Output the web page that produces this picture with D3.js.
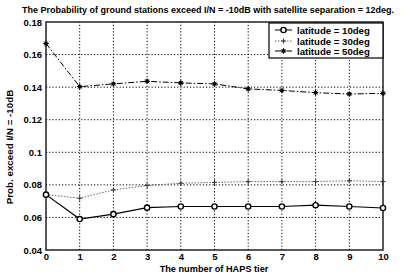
<!DOCTYPE html>
<html>
<head>
<meta charset="utf-8">
<script src="https://cdn.jsdelivr.net/npm/d3@7"></script>
<style>
  body { margin: 0; background: #fff; }
  text { font-family: "Liberation Sans", Arial, sans-serif; font-weight: bold; fill: #000; }
</style>
</head>
<body>
<div id="chart"></div>
<script>
var tiers = [0, 1, 2, 3, 4, 5, 6, 7, 8, 9, 10];
var lat10 = [0.074, 0.059, 0.062, 0.066, 0.0667, 0.0667, 0.0667, 0.0667, 0.0675, 0.0667, 0.0658];
var lat30 = [0.074, 0.0718, 0.0769, 0.0796, 0.081, 0.0815, 0.082, 0.082, 0.082, 0.0825, 0.082];
var lat50 = [0.1668, 0.1403, 0.142, 0.1436, 0.1426, 0.142, 0.1389, 0.138, 0.1366, 0.1358, 0.1362];
var yTicks = [0.04, 0.06, 0.08, 0.1, 0.12, 0.14, 0.16, 0.18];
var names = ["latitude = 10deg", "latitude = 30deg", "latitude = 50deg"];

var W = 409, H = 274;
var margin = { left: 46, right: 26, top: 22, bottom: 24 };

var svg = d3.select("#chart").append("svg")
    .attr("width", W)
    .attr("height", H);

var x = d3.scaleLinear().domain([0, 10]).range([margin.left, W - margin.right]);
var y = d3.scaleLinear().domain([0.04, 0.18]).range([H - margin.bottom, margin.top]);

// grid
svg.append("g").selectAll("line.vg")
    .data(tiers.slice(1, -1))
    .enter().append("line")
    .attr("x1", d => x(d)).attr("x2", d => x(d))
    .attr("y1", y(0.04)).attr("y2", y(0.18))
    .attr("stroke", "#000").attr("stroke-width", 1)
    .attr("stroke-dasharray", "1.2,2");
svg.append("g").selectAll("line.hg")
    .data(yTicks.slice(1, -1))
    .enter().append("line")
    .attr("x1", x(0)).attr("x2", x(10))
    .attr("y1", d => y(d)).attr("y2", d => y(d))
    .attr("stroke", "#000").attr("stroke-width", 1)
    .attr("stroke-dasharray", "1.2,2");

// frame
svg.append("rect")
    .attr("x", x(0)).attr("y", y(0.18))
    .attr("width", x(10) - x(0)).attr("height", y(0.04) - y(0.18))
    .attr("fill", "none").attr("stroke", "#000").attr("stroke-width", 1.3);

var xAxis = d3.axisBottom(x).tickValues(tiers).tickSize(0).tickPadding(3).tickFormat(d3.format("d"));
var yAxis = d3.axisLeft(y).tickValues(yTicks).tickSize(0).tickPadding(4).tickFormat(d => d3.format("")(+d.toFixed(2)));

svg.append("g")
    .attr("transform", "translate(0," + y(0.04) + ")")
    .call(xAxis)
    .call(g => g.select(".domain").remove())
    .selectAll("text").style("font-size", "9.5px");

svg.append("g")
    .attr("transform", "translate(" + x(0) + ",0)")
    .call(yAxis)
    .call(g => g.select(".domain").remove())
    .selectAll("text").style("font-size", "9.5px");

var line = d3.line().x((d, i) => x(tiers[i])).y(d => y(d));

// lat 50 dash-dot
svg.append("path").datum(lat50)
    .attr("d", line).attr("fill", "none")
    .attr("stroke", "#000").attr("stroke-width", 1)
    .attr("stroke-dasharray", "6,2,1.5,2");
// lat 30 dotted
svg.append("path").datum(lat30)
    .attr("d", line).attr("fill", "none")
    .attr("stroke", "#666").attr("stroke-width", 1)
    .attr("stroke-dasharray", "1.5,1.5");
// lat 10 solid
svg.append("path").datum(lat10)
    .attr("d", line).attr("fill", "none")
    .attr("stroke", "#000").attr("stroke-width", 1.2);

function plus(g, cx, cy, r, c) {
    g.append("path")
        .attr("d", "M" + (cx - r) + "," + cy + "H" + (cx + r) + "M" + cx + "," + (cy - r) + "V" + (cy + r))
        .attr("stroke", c).attr("stroke-width", 1);
}
function star(g, cx, cy, r) {
    g.append("circle").attr("cx", cx).attr("cy", cy).attr("r", 1.8).attr("fill", "#000");
    g.append("path")
        .attr("d", "M" + (cx - r) + "," + cy + "H" + (cx + r) + "M" + cx + "," + (cy - r) + "V" + (cy + r) +
            "M" + (cx - r * 0.7) + "," + (cy - r * 0.7) + "L" + (cx + r * 0.7) + "," + (cy + r * 0.7) +
            "M" + (cx - r * 0.7) + "," + (cy + r * 0.7) + "L" + (cx + r * 0.7) + "," + (cy - r * 0.7))
        .attr("stroke", "#000").attr("stroke-width", 1);
}

var marks = svg.append("g");
lat50.forEach((d, i) => star(marks, x(tiers[i]), y(d), 2.8));
lat30.forEach((d, i) => plus(marks, x(tiers[i]), y(d), 2.5, "#333"));
marks.selectAll("circle.c10")
    .data(lat10)
    .enter().append("circle")
    .attr("class", "c10")
    .attr("cx", (d, i) => x(tiers[i])).attr("cy", d => y(d))
    .attr("r", 2.6).attr("fill", "#fff")
    .attr("stroke", "#000").attr("stroke-width", 1.4);

// legend
var lg = svg.append("g");
var lx = 269, ly = 23, lw = x(10) - 269, lh = 35;
lg.append("rect").attr("x", lx).attr("y", ly).attr("width", lw).attr("height", lh)
    .attr("fill", "#fff").attr("stroke", "#000").attr("stroke-width", 1.2);
var rowY = [30, 41, 51];
var styles = [
    { dash: null, c: "#000" },
    { dash: "1.5,1.5", c: "#666" },
    { dash: "6,2,1.5,2", c: "#000" }
];
names.forEach((n, i) => {
    lg.append("line").attr("x1", 275).attr("x2", 292).attr("y1", rowY[i]).attr("y2", rowY[i])
        .attr("stroke", styles[i].c).attr("stroke-width", 1)
        .attr("stroke-dasharray", styles[i].dash);
    lg.append("text").attr("x", 297).attr("y", rowY[i] + 3.5)
        .style("font-size", "9.6px").text(n);
});
lg.append("circle").attr("cx", 283.5).attr("cy", rowY[0]).attr("r", 2.6)
    .attr("fill", "#fff").attr("stroke", "#000").attr("stroke-width", 1.4);
plus(lg, 283.5, rowY[1], 2.5, "#333");
star(lg, 283.5, rowY[2], 2.8);

// titles
svg.append("text").attr("x", 208).attr("y", 13).attr("text-anchor", "middle")
    .style("font-size", "9px")
    .text("The Probability of ground stations exceed I/N = -10dB with satellite separation = 12deg.");
svg.append("text").attr("x", 214).attr("y", 272).attr("text-anchor", "middle")
    .style("font-size", "9.2px").text("The number of HAPS tier");
svg.append("text").attr("transform", "translate(13,147) rotate(-90)").attr("text-anchor", "middle")
    .style("font-size", "9.8px").text("Prob. exceed I/N = -10dB");
</script>
</body>
</html>
